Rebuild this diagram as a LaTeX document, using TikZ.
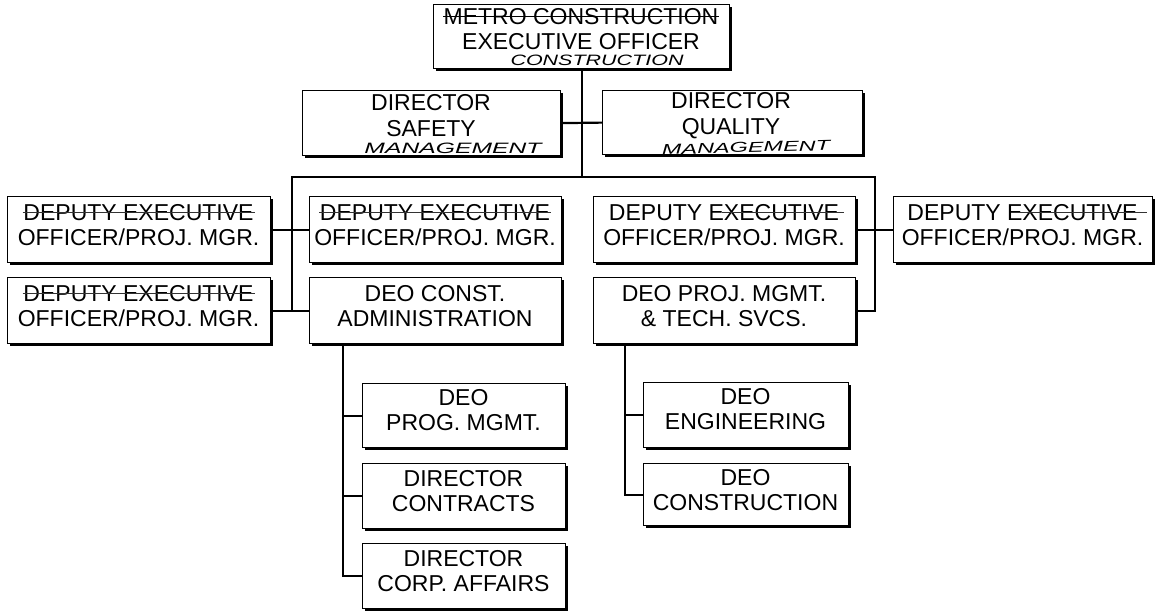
\documentclass[tikz,border=0pt]{standalone}
\usepackage{fontspec}
\usepackage{graphicx}
\setmainfont{Liberation Sans}
\newfontfamily\handfont{Liberation Sans}
\usetikzlibrary{shadows,calc}

\tikzset{
  orgbox/.style={draw=black, line width=1.2pt, fill=white, inner sep=0pt,
    anchor=north west,
    drop shadow={shadow xshift=2.2pt, shadow yshift=-2.2pt, opacity=1, fill=black}},
  lbl/.style={align=center, inner sep=0pt, font=\fontsize{23}{25.5}\selectfont},
  note/.style={inner sep=0pt, font=\handfont\itshape},
  link/.style={line width=2.2pt},
  strike/.style={line width=0.7pt, black!80},
}

\begin{document}
\begin{tikzpicture}[x=1pt, y=-1pt]
\fill[white] (0,0) rectangle (1158,611);
\useasboundingbox (0,0) rectangle (1158,611);

% ---- top level ----
\node[orgbox, minimum width=296pt, minimum height=64pt] (ceo) at (433,4) {};
\node[lbl] (ceo-t) at (581,29) {METRO CONSTRUCTION\\EXECUTIVE OFFICER};
\node[note] (ceo-n) at (597,60) {\resizebox{173pt}{10.5pt}{\handfont\itshape CONSTRUCTION}};

% ---- staff directors ----
\node[orgbox, minimum width=258pt, minimum height=65pt] (safety) at (302,90) {};
\node[lbl] (safety-t) at (431,115.5) {DIRECTOR\\SAFETY};
\node[note] (safety-n) at (453,148) {\resizebox{177pt}{10.5pt}{\handfont\itshape MANAGEMENT}};

\node[orgbox, minimum width=260pt, minimum height=64pt] (quality) at (602,90) {};
\node[lbl] (quality-t) at (731,115.5) {DIRECTOR\\QUALITY};
\node[note, rotate=1.5] (quality-n) at (746,147.5) {\resizebox{168pt}{10pt}{\handfont\itshape MANAGEMENT}};

% ---- deputy row ----
\node[orgbox, minimum width=263pt, minimum height=66pt] (L1) at (7,196) {};
\node[lbl] (L1-t) at (138.5,225) {DEPUTY EXECUTIVE\\OFFICER/PROJ. MGR.};
\node[orgbox, minimum width=263pt, minimum height=66pt] (L2) at (7,277) {};
\node[lbl] (L2-t) at (138.5,306) {DEPUTY EXECUTIVE\\OFFICER/PROJ. MGR.};

\node[orgbox, minimum width=252pt, minimum height=66pt] (M1) at (309,196) {};
\node[lbl] (M1-t) at (435,225) {DEPUTY EXECUTIVE\\OFFICER/PROJ. MGR.};
\node[orgbox, minimum width=252pt, minimum height=66pt] (M2) at (309,277) {};
\node[lbl] (M2-t) at (435,306) {DEO CONST.\\ADMINISTRATION};

\node[orgbox, minimum width=262pt, minimum height=66pt] (R1) at (593,196) {};
\node[lbl] (R1-t) at (724,225) {DEPUTY EXECUTIVE\\OFFICER/PROJ. MGR.};
\node[orgbox, minimum width=262pt, minimum height=66pt] (R2) at (593,277) {};
\node[lbl] (R2-t) at (724,306) {DEO PROJ. MGMT.\\\& TECH. SVCS.};

\node[orgbox, minimum width=259pt, minimum height=66pt] (FR) at (893,196) {};
\node[lbl] (FR-t) at (1022.5,225) {DEPUTY EXECUTIVE\\OFFICER/PROJ. MGR.};

% ---- units under construction administration ----
\node[orgbox, minimum width=203pt, minimum height=64pt] (S1) at (362,383) {};
\node[lbl] (S1-t) at (463.5,410) {DEO\\PROG. MGMT.};
\node[orgbox, minimum width=203pt, minimum height=65pt] (S2) at (362,463) {};
\node[lbl] (S2-t) at (463.5,491) {DIRECTOR\\CONTRACTS};
\node[orgbox, minimum width=203pt, minimum height=65pt] (S3) at (362,543) {};
\node[lbl] (S3-t) at (463.5,571) {DIRECTOR\\CORP. AFFAIRS};

% ---- units under project management ----
\node[orgbox, minimum width=205pt, minimum height=65pt] (T1) at (643,382) {};
\node[lbl] (T1-t) at (745.5,409) {DEO\\ENGINEERING};
\node[orgbox, minimum width=205pt, minimum height=62pt] (T2) at (643,463) {};
\node[lbl] (T2-t) at (745.5,490) {DEO\\CONSTRUCTION};

% ---- hand corrections: struck-out titles ----
\draw[line width=0.9pt] ($(ceo-t.north west)+(0,8.5)$) -- ($(ceo-t.north east)+(0,8.5)$);
\foreach \b in {L1-t,L2-t,M1-t}
  \draw[strike] ($(\b.north)+(-116,8.5)$) -- ($(\b.north)+(116,8.5)$);
\draw[strike] ($(R1-t.north)+(-2,8.5)$) -- ($(R1-t.north)+(120,8.5)$);
\draw[strike] ($(FR-t.north)+(-12,8.5)$) -- ($(FR-t.north)+(124,8.5)$);

% ---- connectors ----
\coordinate (busL) at (292,177);
\coordinate (busR) at (875,177);
\coordinate (trunkA) at (343,343);
\coordinate (trunkB) at (625,343);

\draw[link] (ceo) -- (ceo |- busL);
\draw[link] (safety.east) -- (quality.west);
\draw[link] (M2.west) -| (busL) -- (busR) |- (R2.east);
\draw[link] (L1.east) -- (M1.west);
\draw[link] (L2.east) -- (M2.west);
\draw[link] (R1.east) -- (FR.west);

\draw[link] (trunkA) |- (S3.west);
\draw[link] (trunkA |- S1.west) -- (S1.west);
\draw[link] (trunkA |- S2.west) -- (S2.west);

\draw[link] (trunkB) |- (T2.west);
\draw[link] (trunkB |- T1.west) -- (T1.west);
\end{tikzpicture}
\end{document}
